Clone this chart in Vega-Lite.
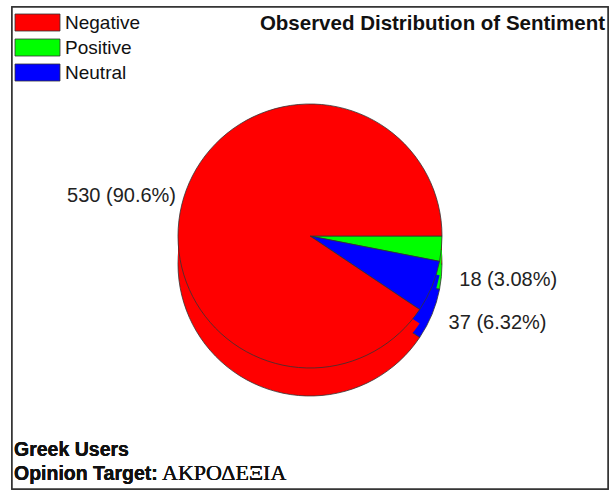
{
  "$schema": "https://vega.github.io/schema/vega-lite/v6.json",
  "width": 611,
  "height": 492,
  "autosize": {"type": "fit", "contains": "padding"},
  "padding": {"left": 11, "top": 6, "right": 2, "bottom": 2},
  "background": "white",
  "config": {
    "view": {"stroke": null},
    "font": "Liberation Sans"
  },
  "title": {
    "text": "Observed Distribution of Sentiment",
    "anchor": "end",
    "orient": "top",
    "frame": "group",
    "offset": -28,
    "dx": -3,
    "fontSize": 20.5,
    "font": "Liberation Sans",
    "fontWeight": "bold",
    "color": "#111"
  },
  "data": {
    "values": [
      {"sentiment": "Positive", "count": 18, "label": "18 (3.08%)", "slice": 1},
      {"sentiment": "Neutral", "count": 37, "label": "37 (6.32%)", "slice": 2},
      {"sentiment": "Negative", "count": 530, "label": "530 (90.6%)", "slice": 3}
    ]
  },
  "layer": [
    {
      "mark": {"type": "rect", "x": 0, "y": 0, "x2": {"expr": "width"}, "y2": {"expr": "height"}, "fill": "white", "stroke": "#333", "strokeWidth": 1.5},
      "encoding": {}
    },
    {
      "encoding": {
        "theta": {"field": "count", "type": "quantitative", "stack": true, "scale": {"range": [1.5708, 7.854]}},
        "order": {"field": "slice", "type": "quantitative"},
        "color": {
          "field": "sentiment",
          "type": "nominal",
          "scale": {"domain": ["Negative", "Positive", "Neutral"], "range": ["#ff0000", "#00ff00", "#0000ff"]},
          "legend": {
            "orient": "none",
            "legendX": 16,
            "legendY": 6,
            "title": null,
            "symbolType": "M-2.647,-1H2.647V1H-2.647Z",
            "symbolSize": 289,
            "symbolStrokeColor": "#333",
            "symbolStrokeWidth": 0.8,
            "symbolOpacity": 1,
            "labelFontSize": 19,
            "labelFont": "Liberation Sans",
            "labelColor": "#111",
            "labelOffset": 18,
            "rowPadding": 4
          }
        }
      },
      "layer": [
        {"mark": {"type": "arc", "radius": 132, "yOffset": 16, "stroke": "#333", "strokeWidth": 0.8}},
        {"mark": {"type": "arc", "radius": 132, "yOffset": 2}},
        {"mark": {"type": "arc", "radius": 132, "yOffset": -12, "stroke": "#333", "strokeWidth": 0.8}},
        {
          "mark": {"type": "text", "radius": 197, "yOffset": 5, "fontSize": 20, "align": "center", "baseline": "middle"},
          "encoding": {
            "text": {"field": "label"},
            "color": {"value": "#222"},
            "opacity": {"condition": {"test": "datum.sentiment == 'Negative'", "value": 1}, "value": 0}
          }
        },
        {
          "mark": {"type": "text", "radius": 150, "yOffset": 18, "fontSize": 20, "align": "left", "baseline": "middle"},
          "encoding": {
            "text": {"field": "label"},
            "color": {"value": "#222"},
            "opacity": {"condition": {"test": "datum.sentiment != 'Negative'", "value": 1}, "value": 0}
          }
        }
      ]
    },
    {
      "mark": {"type": "text", "text": "Greek Users", "x": 2, "y": {"expr": "height - 33"}, "align": "left", "baseline": "alphabetic", "fontSize": 19.5, "fontWeight": "bold", "font": "Liberation Sans", "color": "#111"},
      "encoding": {}
    },
    {
      "mark": {"type": "text", "text": "Opinion Target:", "x": 2, "y": {"expr": "height - 9"}, "align": "left", "baseline": "alphabetic", "fontSize": 19.5, "fontWeight": "bold", "font": "Liberation Sans", "color": "#111"},
      "encoding": {}
    },
    {
      "mark": {"type": "text", "text": "ΑΚΡΟΔΕΞΙΑ", "x": 150, "y": {"expr": "height - 9"}, "align": "left", "baseline": "alphabetic", "fontSize": 22, "font": "Liberation Serif", "color": "#111"},
      "encoding": {}
    }
  ]
}
